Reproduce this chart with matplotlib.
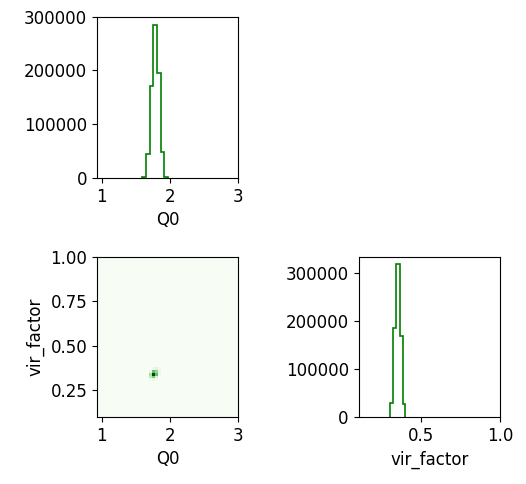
import matplotlib
matplotlib.use("Agg")
import matplotlib.pyplot as plt
import numpy as np

# Q0 marginal histogram (bin edges and counts)
q0_edges = [1.585, 1.655, 1.715, 1.75, 1.805, 1.87, 1.92, 1.98]
q0_counts = [1000, 44000, 171000, 285000, 195000, 49000, 1500]

# vir_factor marginal histogram
vir_edges = [0.302, 0.319, 0.34, 0.365, 0.38, 0.397]
vir_counts = [30000, 186000, 319000, 170000, 27000]

# 2D histogram patch around the blob (rows = vir_factor bins, cols = Q0 bins)
h2_xedges = [1.6445, 1.6895, 1.7345, 1.7795, 1.8245, 1.8695]
h2_yedges = [0.29925, 0.316, 0.3327, 0.3494, 0.3661, 0.3828]
h2_counts = np.array([
    [0, 1, 3, 1, 0],
    [1, 8, 14, 5, 0],
    [0, 10, 30, 16, 1],
    [0, 3, 16, 12, 3],
    [0, 0, 2, 4, 1],
])

plt.rcParams['font.size'] = 12
fig = plt.figure(figsize=(5.26, 4.84), dpi=100)

ax1 = fig.add_axes([0.1844, 0.6322, 0.268, 0.3337])
ax3 = fig.add_axes([0.1844, 0.1384, 0.268, 0.3316])
ax4 = fig.add_axes([0.6816, 0.1384, 0.269, 0.3316])

# top-left: Q0
ax1.stairs(q0_counts, q0_edges, color='green', linewidth=1.2)
ax1.set_xlim(0.93, 3.0)
ax1.set_ylim(0, max(q0_counts) * 1.05)
ax1.set_xticks([1, 2, 3])
ax1.set_yticks([0, 100000, 200000, 300000])
ax1.set_xlabel('Q0')

# bottom-left: 2D hist
cmap = plt.get_cmap('Greens')
ax3.set_facecolor(cmap(0.0))
ax3.pcolormesh(h2_xedges, h2_yedges, h2_counts, cmap=cmap, vmin=0,
               vmax=h2_counts.max())
ax3.set_xlim(0.93, 3.0)
ax3.set_ylim(0.1, 1.0)
ax3.set_xticks([1, 2, 3])
ax3.set_yticks([0.25, 0.5, 0.75, 1.0])
ax3.set_yticklabels(['0.25', '0.50', '0.75', '1.00'])
ax3.set_xlabel('Q0')
ax3.set_ylabel('vir_factor')

# bottom-right: vir_factor
ax4.stairs(vir_counts, vir_edges, color='green', linewidth=1.2)
ax4.set_xlim(0.1, 1.0)
ax4.set_ylim(0, max(vir_counts) * 1.05)
ax4.set_xticks([0.5, 1.0])
ax4.set_yticks([0, 100000, 200000, 300000])
ax4.set_xlabel('vir_factor')

fig.savefig('out.png', dpi=100)
